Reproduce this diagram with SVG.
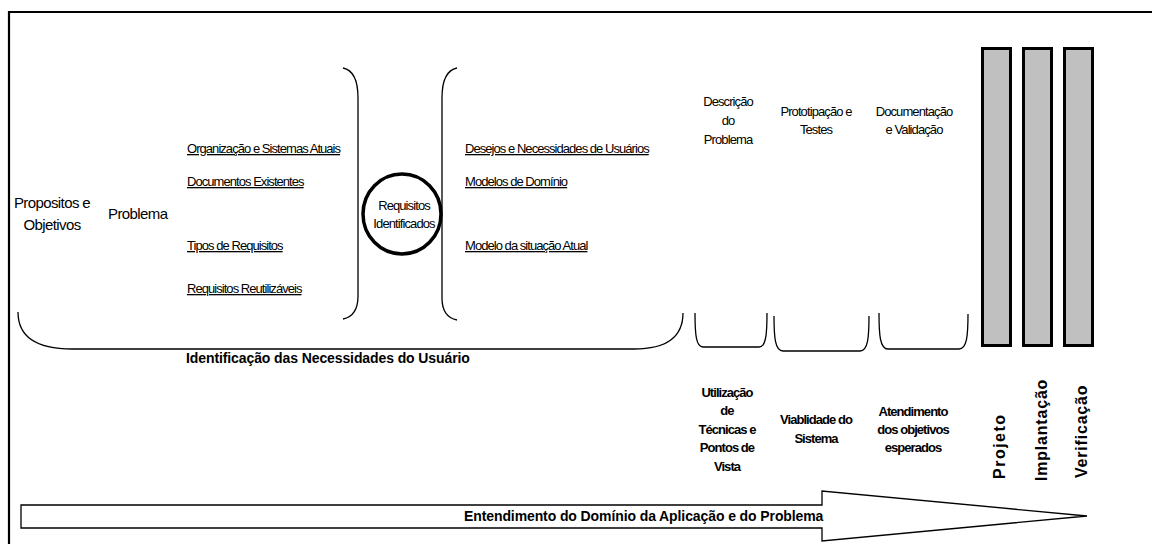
<svg xmlns="http://www.w3.org/2000/svg" width="1152" height="544" viewBox="0 0 1152 544">
  <style>
    .t { font-family: "Liberation Sans", Arial, sans-serif; fill: #000; }
    .big { font-size: 15px; letter-spacing: -0.6px; }
    .item { font-size: 13px; letter-spacing: -0.95px; text-decoration: underline; }
    .cap { font-size: 13px; letter-spacing: -0.9px; text-anchor: middle; }
    .bcap { font-size: 13px; font-weight: bold; letter-spacing: -0.95px; text-anchor: middle; }
    .band { font-size: 14px; font-weight: bold; }
    .vert { font-size: 16px; font-weight: bold; }
    .brace { fill: none; stroke: #000; stroke-width: 1.3; }
    .bar { fill: #c0c0c0; stroke: #000; stroke-width: 3; }
  </style>

  <rect width="1152" height="544" fill="#fff"/>

  <!-- outer frame: top and left edges only -->
  <path d="M9,544 V12 H1152" fill="none" stroke="#000" stroke-width="2.2"/>

  <g id="connectors">
    <!-- brace closing the left list -->
    <path class="brace" d="M343,68 C353,70 358,80 358,98 V296 C358,310 353,317 343,319"/>
    <!-- brace opening the right list -->
    <path class="brace" d="M457,68 C447,70 442,80 442,98 V298 C442,311 447,318 457,320"/>
    <!-- large brace under the requirements area -->
    <path class="brace" d="M18,312 C18,336 36,349 72,349 H634 C668,349 683,336 683,313"/>
    <!-- small brackets under the three activities -->
    <path class="brace" d="M695,313 C695,334 696,347 703,347 H759 C766,347 767,334 767,313"/>
    <path class="brace" d="M774,316 C774,337 775,351 783,351 H860 C868,351 869,337 869,316"/>
    <path class="brace" d="M879,313 C879,335 880,349 888,349 H959 C967,349 968,335 968,314"/>
  </g>

  <g id="propositos">
    <text class="t big" x="52" y="208" text-anchor="middle">Propositos e</text>
    <text class="t big" x="52" y="230" text-anchor="middle">Objetivos</text>
  </g>

  <g id="problema">
    <text class="t big" x="108" y="219">Problema</text>
  </g>

  <g id="fontes-esquerda">
    <text class="t item" x="187" y="153">Organização e Sistemas Atuais</text>
    <text class="t item" x="187" y="186">Documentos Existentes</text>
    <text class="t item" x="187" y="250">Tipos de Requisitos</text>
    <text class="t item" x="187" y="293">Requisitos Reutilizáveis</text>
  </g>

  <g id="requisitos-identificados">
    <ellipse cx="402" cy="214" rx="39" ry="40" fill="none" stroke="#000" stroke-width="3.5"/>
    <text class="t cap" x="404" y="210">Requisitos</text>
    <text class="t cap" x="404" y="228">Identificados</text>
  </g>

  <g id="fontes-direita">
    <text class="t item" x="465" y="153">Desejos e Necessidades de Usuários</text>
    <text class="t item" x="465" y="186">Modelos de Domínio</text>
    <text class="t item" x="465" y="250">Modelo da situação Atual</text>
  </g>

  <g id="descricao">
    <text class="t cap" x="728" y="106">Descrição</text>
    <text class="t cap" x="728" y="125">do</text>
    <text class="t cap" x="728" y="144">Problema</text>
  </g>

  <g id="prototipacao">
    <text class="t cap" x="816" y="116">Prototipação e</text>
    <text class="t cap" x="816" y="134">Testes</text>
  </g>

  <g id="documentacao">
    <text class="t cap" x="914" y="116">Documentação</text>
    <text class="t cap" x="914" y="134">e Validação</text>
  </g>

  <g id="identificacao">
    <text class="t band" x="186" y="363" letter-spacing="-0.1">Identificação das Necessidades do Usuário</text>
  </g>

  <g id="utilizacao">
    <text class="t bcap" x="727" y="397">Utilização</text>
    <text class="t bcap" x="727" y="415">de</text>
    <text class="t bcap" x="727" y="434">Técnicas e</text>
    <text class="t bcap" x="727" y="452">Pontos de</text>
    <text class="t bcap" x="727" y="471">Vista</text>
  </g>

  <g id="viabilidade">
    <text class="t bcap" x="816" y="424">Viablidade do</text>
    <text class="t bcap" x="816" y="443">Sistema</text>
  </g>

  <g id="atendimento">
    <text class="t bcap" x="913" y="416">Atendimento</text>
    <text class="t bcap" x="913" y="434">dos objetivos</text>
    <text class="t bcap" x="913" y="452">esperados</text>
  </g>

  <g id="projeto">
    <rect class="bar" x="982.5" y="48.5" width="28" height="297"/>
    <text class="t vert" transform="translate(1005,479) rotate(-90)" font-size="17" letter-spacing="1.5">Projeto</text>
  </g>

  <g id="implantacao">
    <rect class="bar" x="1023.5" y="48.5" width="28" height="297"/>
    <text class="t vert" transform="translate(1047,481) rotate(-90)" letter-spacing="0.8">Implantação</text>
  </g>

  <g id="verificacao">
    <rect class="bar" x="1064.5" y="48.5" width="28" height="297"/>
    <text class="t vert" transform="translate(1087,478) rotate(-90)" letter-spacing="0.8">Verificação</text>
  </g>

  <g id="entendimento">
    <polygon points="21,505 822,505 822,491 1087,516 822,541 822,528 21,528" fill="#fff" stroke="#000" stroke-width="1.3" stroke-linejoin="miter"/>
    <text class="t band" x="464" y="521" letter-spacing="-0.1">Entendimento do Domínio da Aplicação e do Problema</text>
  </g>
</svg>
